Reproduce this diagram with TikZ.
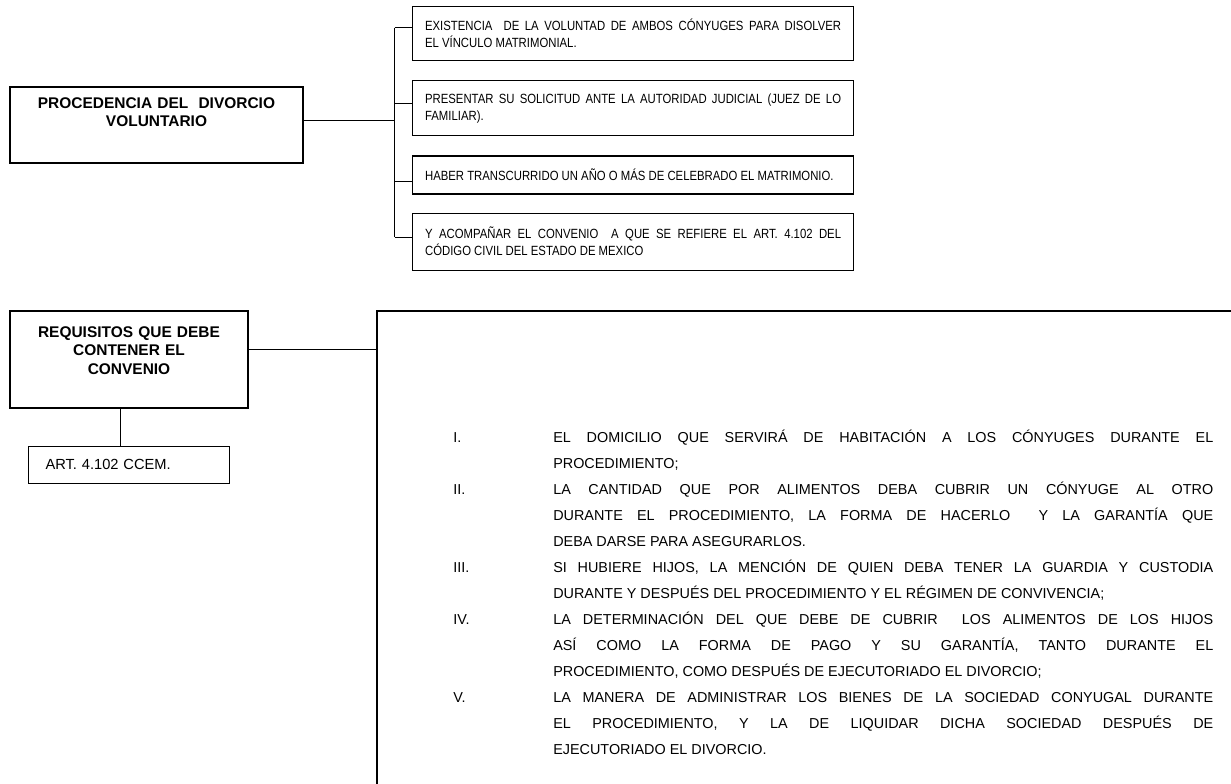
\documentclass[tikz,border=0pt]{standalone}
\usepackage{fontspec}
\setmainfont{Liberation Sans}
\newfontfamily\narrowsans{Liberation Sans}[FakeStretch=0.85]
\usetikzlibrary{positioning}
\hyphenpenalty=10000
\exhyphenpenalty=10000
\newcommand{\conitem}[2]{\noindent\hangindent=75pt\hangafter=1\makebox[75pt][l]{#1}#2\par}

\begin{document}
\begin{tikzpicture}
		[x=0.75pt, y=-0.75pt,
		head/.style={rectangle, draw, line width=0.9pt, align=center, inner xsep=4pt},
		cond/.style={rectangle, draw, line width=0.9pt, text width=312pt, inner xsep=9.375pt, inner ysep=0pt, align=justify, font=\narrowsans\fontsize{10pt}{12.75pt}\selectfont},
		link/.style={line width=0.6pt}]
		\useasboundingbox (0,0) rectangle (1231,783);

		% upper part %
		\node[head, text width=211.75pt, minimum height=57pt, font=\fontsize{11.6pt}{13.5pt}\selectfont\bfseries] (proc) at (156.5,125)
			{PROCEDENCIA DEL\ \ DIVORCIO\\VOLUNTARIO\\[6pt]\mbox{}};
		\node[cond, anchor=north west, minimum height=40.5pt] (c1) at (412,6)
			{EXISTENCIA\ \ DE LA VOLUNTAD DE AMBOS CÓNYUGES PARA DISOLVER\linebreak EL VÍNCULO MATRIMONIAL.};
		\node[cond, below=14.25pt of c1, minimum height=41.25pt] (c2)
			{PRESENTAR SU SOLICITUD ANTE LA AUTORIDAD JUDICIAL (JUEZ DE LO\linebreak FAMILIAR).};
		\node[cond, below=14.25pt of c2, minimum height=28.5pt] (c3)
			{HABER TRANSCURRIDO UN AÑO O MÁS DE CELEBRADO EL MATRIMONIO.};
		\node[cond, below=13.5pt of c3, minimum height=42.75pt] (c4)
			{Y ACOMPAÑAR EL CONVENIO\ \ A QUE SE REFIERE EL ART. 4.102 DEL\linebreak CÓDIGO CIVIL DEL ESTADO DE MEXICO};

		% edges %
		\draw[link] ([yshift=3.75pt]proc.east) -- ++(91,0) coordinate (fork);
		\foreach \n/\s in {c1/4.5pt, c2/4pt, c3/-4.5pt, c4/3.5pt}{
			\coordinate (k-\n) at ([yshift=\s]\n.west);
			\draw[link] (fork |- k-\n) -- (k-\n);
		}
		\draw[link] (fork |- k-c1) -- (fork |- k-c4);

		% lower part %
		\node[head, text width=170.5pt, minimum height=72.75pt, font=\fontsize{11.6pt}{13.9pt}\selectfont\bfseries] (req) at (129,359.5)
			{REQUISITOS QUE DEBE\\CONTENER EL\\CONVENIO\\\mbox{}};
		\node[rectangle, draw, line width=0.9pt, below=27.75pt of req, text width=125.25pt, inner xsep=12.75pt, minimum height=27.75pt, align=left, font=\fontsize{11pt}{13pt}\selectfont] (art)
			{ART. 4.102 CCEM.};
		\node[draw, line width=1.2pt, anchor=north west, minimum width=700pt, minimum height=420pt, inner sep=0pt] (frame) at (376,310) {};

		\coordinate (drop) at ([xshift=-6.75pt]req.south);
		\draw[link] (drop) -- (drop |- art.north);
		\coordinate (tap) at ([yshift=7.5pt]req.east);
		\draw[link] (tap) -- (tap -| frame.west);

		\node[anchor=north west, inner sep=0pt, text width=570pt, align=justify, font=\fontsize{10.8pt}{19.5pt}\selectfont] (list) at (453,430) {%
			\conitem{I.}{EL DOMICILIO QUE SERVIRÁ DE HABITACIÓN A LOS CÓNYUGES DURANTE EL\linebreak PROCEDIMIENTO;}
			\conitem{II.}{LA CANTIDAD QUE POR ALIMENTOS DEBA CUBRIR UN CÓNYUGE AL OTRO\linebreak DURANTE EL PROCEDIMIENTO, LA FORMA DE HACERLO\ \ Y LA GARANTÍA QUE\linebreak DEBA DARSE PARA ASEGURARLOS.}
			\conitem{III.}{SI HUBIERE HIJOS, LA MENCIÓN DE QUIEN DEBA TENER LA GUARDIA Y CUSTODIA\linebreak DURANTE Y DESPUÉS DEL PROCEDIMIENTO Y EL RÉGIMEN DE CONVIVENCIA;}
			\conitem{IV.}{LA DETERMINACIÓN DEL QUE DEBE DE CUBRIR\ \ LOS ALIMENTOS DE LOS HIJOS\linebreak ASÍ COMO LA FORMA DE PAGO Y SU GARANTÍA, TANTO DURANTE EL\linebreak PROCEDIMIENTO, COMO DESPUÉS DE EJECUTORIADO EL DIVORCIO;}
			\conitem{V.}{LA MANERA DE ADMINISTRAR LOS BIENES DE LA SOCIEDAD CONYUGAL DURANTE\linebreak EL PROCEDIMIENTO, Y LA DE LIQUIDAR DICHA SOCIEDAD DESPUÉS DE\linebreak EJECUTORIADO EL DIVORCIO.}};
		\end{tikzpicture}
\end{document}
